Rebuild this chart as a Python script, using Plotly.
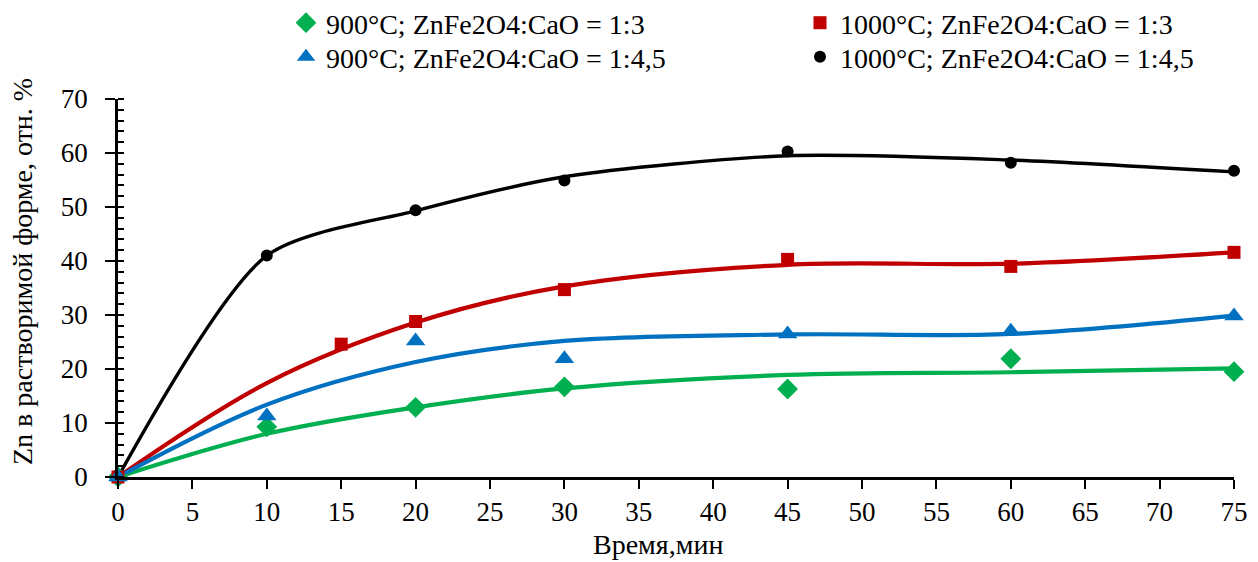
import plotly.graph_objects as go

# ---- data ----
time_g = [0, 10, 20, 30, 45, 60, 75]
zn_900_13 = [0, 9.3, 12.9, 16.7, 16.3, 21.9, 19.5]          # green diamonds
time_r = [0, 15, 20, 30, 45, 60, 75]
zn_1000_13 = [0, 24.6, 28.8, 34.7, 40.3, 39.0, 41.6]        # red squares
time_b = [0, 10, 20, 30, 45, 60, 75]
zn_900_145 = [0, 11.3, 25.2, 21.9, 26.5, 27.0, 29.8]        # blue triangles
time_k = [0, 10, 20, 30, 45, 60, 75]
zn_1000_145 = [0, 41.0, 49.4, 54.9, 60.3, 58.2, 56.7]       # black circles

# smoothed trend curves
fit_x = [0, 10, 20, 30, 45, 60, 75]
fit_g = [0, 8.0, 12.9, 16.4, 18.9, 19.4, 20.1]
fit_r = [0, 17.4, 28.6, 35.3, 39.3, 39.5, 41.6]
fit_b = [0, 13.4, 21.3, 25.2, 26.4, 26.5, 29.9]
fit_k = [0, 41.0, 49.3, 55.6, 59.5, 58.7, 56.5]

labels = ["900°C; ZnFe2O4:CaO = 1:3", "1000°C; ZnFe2O4:CaO = 1:3",
          "900°C; ZnFe2O4:CaO = 1:4,5", "1000°C; ZnFe2O4:CaO = 1:4,5"]
x_ticks = list(range(0, 80, 5))
y_ticks = list(range(0, 80, 10))

GREEN, RED, BLUE, BLACK = "#00B050", "#C00000", "#0070C0", "#000000"
FONT = "Liberation Serif, Times New Roman, serif"

fig = go.Figure()

# curves
for fy, col, w, sm in [(fit_g, GREEN, 4.2, 1.0), (fit_r, RED, 4.2, 1.0),
                       (fit_b, BLUE, 4.2, 1.0), (fit_k, BLACK, 3.4, 0.75)]:
    fig.add_trace(go.Scatter(x=fit_x, y=fy, mode="lines",
                             line=dict(color=col, width=w, shape="spline", smoothing=sm),
                             showlegend=False, hoverinfo="skip", cliponaxis=False))

# markers (each in its own one-item legend to mimic the 2x2 legend grid)
fig.add_trace(go.Scatter(x=time_k, y=zn_1000_145, mode="markers", name=labels[3],
                         marker=dict(symbol="circle", size=12, color=BLACK),
                         legend="legend4", cliponaxis=False))
fig.add_trace(go.Scatter(x=time_g, y=zn_900_13, mode="markers", name=labels[0],
                         marker=dict(symbol="diamond", size=16, color=GREEN),
                         legend="legend", cliponaxis=False))
fig.add_trace(go.Scatter(x=time_r, y=zn_1000_13, mode="markers", name=labels[1],
                         marker=dict(symbol="square", size=13, color=RED),
                         legend="legend2", cliponaxis=False))
fig.add_trace(go.Scatter(x=time_b, y=zn_900_145, mode="markers", name=labels[2],
                         marker=dict(symbol="triangle-up", size=17, color=BLUE),
                         legend="legend3", cliponaxis=False))

W, H = 1258, 562
ml, mr, mt, mb = 118, 24, 99, 85
pw, ph = W - ml - mr, H - mt - mb

def px_x(p):
    return (p - ml) / pw

def px_y(p):
    return 1 - (p - mt) / ph

leg_common = dict(orientation="h", xanchor="left", yanchor="middle",
                  font=dict(family=FONT, size=28, color="black"),
                  bgcolor="rgba(0,0,0,0)", itemclick=False)

fig.update_layout(
    width=W, height=H,
    margin=dict(l=ml, r=mr, t=mt, b=mb, autoexpand=False),
    paper_bgcolor="white", plot_bgcolor="white",
    font=dict(family=FONT, size=28, color="black"),
    legend=dict(x=px_x(286), y=px_y(23), **leg_common),
    legend2=dict(x=px_x(800), y=px_y(23), **leg_common),
    legend3=dict(x=px_x(286), y=px_y(57), **leg_common),
    legend4=dict(x=px_x(800), y=px_y(57), **leg_common),
    xaxis=dict(range=[0, 75], tickvals=x_ticks, ticks="outside", ticklen=9,
               tickwidth=2, tickcolor="black", showline=True, linecolor="black",
               linewidth=2.5, showgrid=False, zeroline=False,
               tickfont=dict(family=FONT, size=27, color="black")),
    yaxis=dict(range=[0, 70], tickvals=y_ticks, ticks="outside", ticklen=10,
               tickwidth=2, tickcolor="black", showline=True, linecolor="black",
               linewidth=2.5, showgrid=False, zeroline=False,
               ticklabelstandoff=12,
               tickfont=dict(family=FONT, size=27, color="black")),
    annotations=[
        dict(text="Время,мин", xref="paper", yref="paper", x=px_x(658), y=px_y(544),
             xanchor="center", yanchor="middle", showarrow=False,
             font=dict(family=FONT, size=28, color="black")),
        dict(text="Zn в растворимой форме, отн. %", xref="paper", yref="paper",
             x=px_x(22), y=px_y(272), xanchor="center", yanchor="middle",
             textangle=-90, showarrow=False,
             font=dict(family=FONT, size=28, color="black")),
    ],
)
fig.update_yaxes(minor=dict(dtick=2, ticks="inside", ticklen=6, tickwidth=2,
                            tickcolor="black", showgrid=False))

fig.write_html("out.html")
